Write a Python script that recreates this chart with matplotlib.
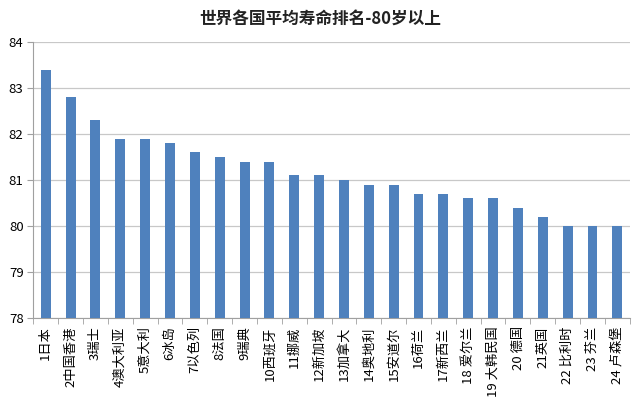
import numpy as np
import matplotlib
matplotlib.use('Agg')
import matplotlib.pyplot as plt

plt.rcParams['font.family'] = ['Noto Sans CJK SC', 'DejaVu Sans']

# 数据
countries = ['1日本', '2中国香港', '3瑞士', '4澳大利亚', '5意大利', '6冰岛', '7以色列',
             '8法国', '9瑞典', '10西班牙', '11挪威', '12新加坡', '13加拿大', '14奥地利',
             '15安道尔', '16荷兰', '17新西兰', '18 爱尔兰', '19 大韩民国', '20 德国',
             '21英国', '22 比利时', '23 芬兰', '24 卢森堡']
life = [83.4, 82.8, 82.3, 81.9, 81.9, 81.8, 81.6, 81.5, 81.4, 81.4, 81.1, 81.1,
        81.0, 80.9, 80.9, 80.7, 80.7, 80.6, 80.6, 80.4, 80.2, 80.0, 80.0, 80.0]
yticks = [78, 79, 80, 81, 82, 83, 84]

fig = plt.figure(figsize=(6.4, 4.09), dpi=100)
ax = fig.add_axes([0.052, 0.2225, 0.932, 0.675])

x = np.arange(len(countries))
ax.bar(x, np.array(life) - 78, bottom=78, width=0.4, color='#4F81BD', zorder=3)

ax.set_ylim(78, 84)
ax.set_xlim(-0.5, len(countries) - 0.5)
ax.set_yticks(yticks)
ax.yaxis.grid(True, color='#C8C8C8', linewidth=0.9, zorder=0)

ax.set_xticks(x)
ax.set_xticklabels(countries, rotation=90, fontsize=9.5)
ax.set_xticks(np.arange(-0.5, len(countries), 1), minor=True)
ax.tick_params(axis='x', which='major', length=0, pad=6)
ax.tick_params(axis='x', which='minor', length=4, color='#A0A0A0')
ax.tick_params(axis='y', length=4, color='#A0A0A0', labelsize=9.5, pad=3)

for s in ['top', 'right']:
    ax.spines[s].set_visible(False)
ax.spines['left'].set_color('#A0A0A0')
ax.spines['bottom'].set_color('#A0A0A0')

fig.text(0.5, 0.955, '世界各国平均寿命排名-80岁以上', ha='center', va='center',
         fontsize=12, fontweight='bold', color='#222222')

fig.savefig('out.png', dpi=100)
